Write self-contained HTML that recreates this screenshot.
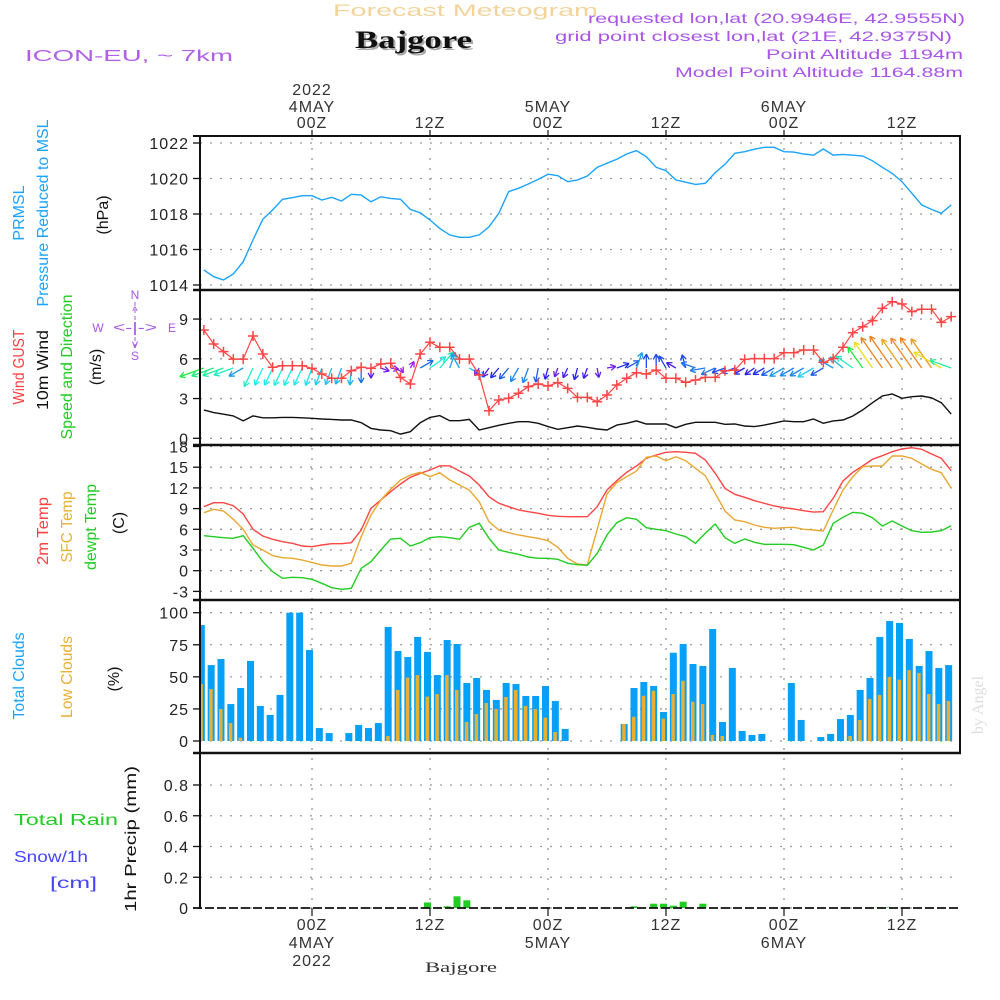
<!DOCTYPE html>
<html><head><meta charset="utf-8"><style>
html,body{margin:0;padding:0;background:#fff;}
svg{display:block;font-family:"Liberation Sans",sans-serif;}
</style></head><body>
<svg id="chart" width="1000" height="1000" viewBox="0 0 1000 1000" xmlns="http://www.w3.org/2000/svg">
<rect x="0" y="0" width="1000" height="1000" fill="#fff"/>
<text x="333" y="16" font-size="17" fill="#f2d49c" textLength="265" lengthAdjust="spacingAndGlyphs">Forecast Meteogram</text>
<text x="357" y="50" font-size="25" font-weight="bold" font-family="Liberation Serif,serif" fill="#aaa" textLength="117" lengthAdjust="spacingAndGlyphs">Bajgore</text>
<text x="355" y="48" font-size="25" font-weight="bold" font-family="Liberation Serif,serif" fill="#111" textLength="117" lengthAdjust="spacingAndGlyphs">Bajgore</text>
<text x="25" y="61" font-size="16" fill="#b060e8" textLength="208" lengthAdjust="spacingAndGlyphs">ICON-EU, ~ 7km</text>
<g fill="#a855e8" font-size="14">
<text x="588" y="23" textLength="377" lengthAdjust="spacingAndGlyphs">requested lon,lat (20.9946E, 42.9555N)</text>
<text x="555" y="41" textLength="397" lengthAdjust="spacingAndGlyphs">grid point closest lon,lat (21E, 42.9375N)</text>
<text x="766" y="59" textLength="197" lengthAdjust="spacingAndGlyphs">Point Altitude 1194m</text>
<text x="675" y="77" textLength="288" lengthAdjust="spacingAndGlyphs">Model Point Altitude 1164.88m</text>
</g>
<g font-size="16">
<text transform="translate(24,213) rotate(-90)" text-anchor="middle" fill="#1aa3ff">PRMSL</text>
<text transform="translate(48,213) rotate(-90)" text-anchor="middle" fill="#1aa3ff" textLength="187" lengthAdjust="spacingAndGlyphs">Pressure Reduced to MSL</text>
<text transform="translate(108,215) rotate(-90)" text-anchor="middle" fill="#111">(hPa)</text>
<text transform="translate(24,367) rotate(-90)" text-anchor="middle" fill="#ff4040" textLength="75" lengthAdjust="spacingAndGlyphs">Wind GUST</text>
<text transform="translate(48,370) rotate(-90)" text-anchor="middle" fill="#111" textLength="80" lengthAdjust="spacingAndGlyphs">10m Wind</text>
<text transform="translate(72,367) rotate(-90)" text-anchor="middle" fill="#22cc22" textLength="145" lengthAdjust="spacingAndGlyphs">Speed and Direction</text>
<text transform="translate(101,367) rotate(-90)" text-anchor="middle" fill="#111">(m/s)</text>
<text transform="translate(48,531) rotate(-90)" text-anchor="middle" fill="#ff4040" textLength="68" lengthAdjust="spacingAndGlyphs">2m Temp</text>
<text transform="translate(72,527) rotate(-90)" text-anchor="middle" fill="#e8b030" textLength="71" lengthAdjust="spacingAndGlyphs">SFC Temp</text>
<text transform="translate(96,527) rotate(-90)" text-anchor="middle" fill="#22cc22" textLength="86" lengthAdjust="spacingAndGlyphs">dewpt Temp</text>
<text transform="translate(124,523) rotate(-90)" text-anchor="middle" fill="#111">(C)</text>
<text transform="translate(24,676) rotate(-90)" text-anchor="middle" fill="#1aa3ff" textLength="87" lengthAdjust="spacingAndGlyphs">Total Clouds</text>
<text transform="translate(72,677) rotate(-90)" text-anchor="middle" fill="#e8b030" textLength="82" lengthAdjust="spacingAndGlyphs">Low Clouds</text>
<text transform="translate(119,679) rotate(-90)" text-anchor="middle" fill="#111">(%)</text>
<text x="14" y="825" fill="#22cc22" textLength="104" lengthAdjust="spacingAndGlyphs">Total  Rain</text>
<text x="14" y="862" fill="#4444ff" textLength="74" lengthAdjust="spacingAndGlyphs">Snow/1h</text>
<text x="50" y="888" fill="#4444ff" textLength="47" lengthAdjust="spacingAndGlyphs">[cm]</text>
<text transform="translate(136,839) rotate(-90)" text-anchor="middle" fill="#111" textLength="146" lengthAdjust="spacingAndGlyphs">1hr Precip (mm)</text>
</g>
<g fill="#a855e8" stroke="none" font-size="12">
<text x="98" y="332" text-anchor="middle">W</text>
<text x="172" y="332" text-anchor="middle">E</text>
<text x="135" y="299" text-anchor="middle">N</text>
<text x="135" y="360" text-anchor="middle">S</text>
<text x="135" y="332" text-anchor="middle" font-size="14" textLength="44" lengthAdjust="spacingAndGlyphs">&lt;-|-&gt;</text>
<text x="135" y="315" text-anchor="middle">^</text>
<text x="135" y="348" text-anchor="middle">v</text>
<line x1="135" y1="302" x2="135" y2="347" stroke="#a855e8" stroke-width="1" stroke-dasharray="4,3"/>
</g>
<text transform="translate(983,705) rotate(-90)" text-anchor="middle" font-family="Liberation Serif,serif" font-size="16" fill="#ddd">by Angel</text>
<text x="425" y="972" font-family="Liberation Serif,serif" font-size="15" fill="#333" textLength="72" lengthAdjust="spacingAndGlyphs">Bajgore</text>
<g id="plot"></g>
</svg>
<script>
const startHour = -11;
const pressure = [1014.85,1014.47,1014.28,1014.62,1015.31,1016.54,1017.7,1018.23,1018.83,1018.92,1019.03,1019.03,1018.79,1018.94,1018.73,1019.11,1019.07,1018.69,1018.97,1018.88,1018.83,1018.26,1018.07,1017.66,1017.19,1016.82,1016.69,1016.69,1016.82,1017.28,1018.04,1019.26,1019.45,1019.69,1019.95,1020.24,1020.16,1019.82,
1019.92,1020.14,1020.63,1020.86,1021.08,1021.38,1021.57,1021.23,1020.63,1020.44,1019.92,1019.79,1019.67,1019.73,1020.33,1020.8,1021.42,1021.51,1021.65,1021.76,1021.76,1021.51,1021.49,1021.38,1021.31,1021.66,1021.32,1021.36,1021.31,1021.27,1021.0,1020.63,1020.29,1019.82,1019.17,1018.51,1018.26,1018.04,1018.51];
const gust = [8.17,7.12,6.54,5.98,5.98,7.72,6.36,5.36,5.48,5.48,5.48,5.28,4.85,4.53,4.53,5.1,5.36,5.28,5.61,5.66,4.6,4.1,6.36,7.25,6.87,6.87,5.98,5.98,4.78,2.08,2.89,3.02,3.4,3.9,4.1,3.95,4.2,3.77,3.09,3.09,
2.76,3.27,4.02,4.53,4.95,4.85,5.15,4.53,4.53,4.23,4.4,4.6,4.6,5.1,5.15,5.96,6.01,6.01,6.01,6.46,6.46,6.66,6.66,5.73,6.01,6.87,7.97,8.42,8.88,9.81,10.31,10.14,9.56,9.74,9.74,8.75,9.18];
const windSpeed = [2.14,1.94,1.82,1.69,1.31,1.69,1.55,1.55,1.58,1.58,1.55,1.51,1.46,1.43,1.38,1.38,1.18,0.75,0.63,0.57,0.32,0.5,1.18,1.58,1.71,1.33,1.33,1.43,0.63,0.8,0.98,1.13,1.25,1.25,1.13,0.88,0.68,0.8,0.93,0.83,
0.7,0.63,1.0,1.13,1.31,1.08,1.08,1.08,0.8,1.06,1.21,1.21,1.21,1.06,1.08,0.93,0.88,1.0,1.15,1.31,1.25,1.25,1.46,1.13,1.31,1.38,1.68,2.14,2.69,3.19,3.34,3.02,3.14,3.19,3.06,2.69,1.83];
const windDir = [70,70,70,70,60,25,25,25,25,25,25,20,20,20,20,5,0,0,290,280,330,210,240,235,220,200,150,300,
30,35,40,40,30,20,10,15,20,25,15,20,350,260,250,240,200,180,180,150,120,165,110,80,65,70,70,60,55,60,60,60,60,60,60,60,120,130,125,145,145,145,145,145,145,145,145,120,110];
const temp2m = [9.28,9.86,9.86,9.42,8.22,6.0,5.03,4.55,4.2,3.97,3.58,3.48,3.72,3.91,3.91,4.06,5.9,9.04,10.25,11.45,12.57,13.53,14.1,14.6,15.2,15.2,14.45,13.72,12.42,10.72,9.77,9.28,8.8,8.55,8.32,8.03,7.88,7.83,7.83,
7.83,9.28,11.7,13.04,14.26,15.17,16.29,16.77,17.16,17.25,17.16,17.01,16.04,14.12,11.94,11.07,10.64,10.14,9.77,9.38,9.13,8.94,8.7,8.5,8.55,10.49,13.0,14.26,15.17,16.14,16.67,17.25,17.64,17.83,17.59,16.91,16.29,14.49];
const tempSfc = [8.41,8.9,8.65,7.45,6.0,3.72,3.0,2.17,1.88,1.79,1.55,1.21,0.83,0.68,0.68,1.07,4.93,8.07,10.25,11.8,13.14,13.87,14.26,13.62,14.2,13.14,12.42,11.7,10.0,7.1,5.9,5.51,5.17,4.93,4.7,4.35,3.39,1.79,0.97,
0.83,6.0,11.12,12.75,13.62,14.45,16.43,16.62,15.94,16.52,15.94,14.84,13.77,11.22,8.65,7.35,7.1,6.62,6.29,6.14,6.23,6.29,6.0,5.9,5.75,8.8,11.7,13.62,15.07,15.17,15.17,16.62,16.62,16.29,15.46,14.69,14.2,11.94];
const dewpoint = [5.07,4.93,4.78,4.7,5.07,3.24,1.3,-0.14,-1.1,-0.96,-1.01,-1.25,-1.83,-2.46,-2.7,-2.55,0.35,1.3,3.0,4.59,4.7,3.58,4.06,4.78,4.93,4.78,4.55,6.29,6.87,4.7,3.0,2.67,2.38,1.99,1.79,1.79,1.65,1.07,0.87,
0.78,2.52,5.17,6.96,7.68,7.45,6.23,6.0,5.8,5.32,4.93,3.97,5.42,6.77,4.78,3.97,4.59,4.11,3.83,3.83,3.83,3.77,3.39,3.0,3.72,6.87,7.74,8.46,8.32,7.68,6.48,7.2,6.48,5.8,5.56,5.61,5.8,6.52];
const totalClouds = [90.4,59.2,63.9,28.8,41.3,62.4,27.3,20.3,35.9,100,100,70.9,10.1,6.2,0,6.2,12.5,10.1,14.0,88.9,70.1,65.5,81.1,69.4,51.4,78.7,75.6,45.2,49.1,39.8,32.0,45.2,44.4,35.1,35.1,42.9,31.2,9.4,
0,0,0,0,0,13.2,41.3,46.0,42.9,22.6,68.8,75.6,60.0,58.5,87.3,14.8,56.9,7.8,4.7,5.5,0,0,45.2,16.4,0,3.1,5.5,17.1,20.3,39.8,49.1,81.1,93.5,92.0,79.5,58.5,70.1,56.9,59.2];
const lowClouds = [44.4,40.5,24.9,14,2.6,0,0,0,0,0,0,0,0,0,0,0,0,0,0,3.9,39.8,49.4,51.4,34.6,36.6,51.4,39.8,14.8,21.0,29.6,24.9,34.3,39.8,27.3,24.9,18.2,7.0,0,
0,0,0,0,0,13.2,18.9,35.3,39.2,17.4,36.6,47.0,30.6,28.8,4.7,3.9,0,0,0,0,0,0,0,0,0,0,0,0,3.9,16.4,32.7,35.9,49.9,47.8,55.3,53.0,36.6,28.8,31.2];
const precip = [0,0,0,0,0,0,0,0,0,0,0,0,0,0,0,0,0,0,0,0,0,0,0,0.036,0.005,0.011,0.076,0.05,0,0,0,0,0,0,0,0,0,0,
0,0,0,0,0,0,0.011,0.003,0.028,0.028,0.015,0.041,0,0.028,0,0,0,0,0,0,0,0,0,0,0,0,0,0,0,0,0.004,0.005,0.004,0,0,0,0,0,0];
const pressureTicks = [1014,1016,1018,1020,1022];
const windTicks = [0,3,6,9];
const tempTicks = [-3,0,3,6,9,12,15,18];
const cloudTicks = [0,25,50,75,100];
const precipTicks = [0,0.2,0.4,0.6,0.8];
const gridHours = [0,12,24,36,48,60];
const topLabels = [["2022","4MAY","00Z"],["","","12Z"],["","5MAY","00Z"],["","","12Z"],["","6MAY","00Z"],["","","12Z"]];
const bottomLabels = [["00Z","4MAY","2022"],["12Z","",""],["00Z","5MAY",""],["12Z","",""],["00Z","6MAY",""],["12Z","",""]];

const NS = "http://www.w3.org/2000/svg";
const plot = document.getElementById('plot');
function mk(tag, attrs, parent){const e=document.createElementNS(NS,tag);for(const k in attrs)e.setAttribute(k,attrs[k]);(parent||plot).appendChild(e);return e;}
const X0=200, X1=960;
const xH = h => 312 + h*9.8333;
const yP = v => 143 + (1022-v)*17.75;
const yW = v => 438.3 - v*13.25;
const yT = v => 570.7 - v*6.9;
const yC = v => 741 - v*1.283;
const yR = v => 908 - v*153.75;
const hourOf = i => startHour + i;

const panels=[[136,290,pressureTicks,yP,'pressure'],[290,445,windTicks,yW,'wind'],[445,600,tempTicks,yT,'temp'],[600,753,cloudTicks,yC,'cloud'],[753,908,precipTicks,yR,'precip']];
panels.forEach(p=>{
  p[2].forEach(t=>{
    const y=p[3](t);
    const g=mk('line',{x1:X0,x2:X1,y1:y,y2:y,stroke:'#999','stroke-width':1.3,'stroke-dasharray':'2,8'});
    
    
    const tk=mk('line',{x1:193,x2:200,y1:y,y2:y,stroke:'#111','stroke-width':1.3});
    
    
    const lb=mk('text',{x:189,y:y+6,'text-anchor':'end','font-size':16,fill:'#222','letter-spacing':'1'});
    lb.textContent=String(t);
    
    
  });
});
gridHours.forEach((h,i)=>{
  const x=xH(h);
  const v=mk('line',{x1:x,x2:x,y1:138,y2:906,stroke:'#999','stroke-width':1.3,'stroke-dasharray':'2,8'});
  
  
  const t1=mk('line',{x1:x,x2:x,y1:130,y2:136,stroke:'#111','stroke-width':1.2});
  
  
  const t2=mk('line',{x1:x,x2:x,y1:908,y2:916,stroke:'#111','stroke-width':1.2});
  
  
  topLabels[i].forEach((s,j)=>{ if(!s) return;
    const tx=mk('text',{x:x,y:[95,112,128][j],'text-anchor':'middle','font-size':16,fill:'#333','letter-spacing':'1'});
    tx.textContent=s;
    
    
  });
  bottomLabels[i].forEach((s,j)=>{ if(!s) return;
    const tx=mk('text',{x:x,y:[930,948,966][j],'text-anchor':'middle','font-size':16,fill:'#333','letter-spacing':'1'});
    tx.textContent=s;
    
    
  });
});

totalClouds.forEach((v,i)=>{
  const x=xH(hourOf(i)); if(v<=0) return;
  const x0=Math.max(X0,x-6), y=yC(v);
  const b=mk('rect',{x:x0,y:y,width:x+1-x0,height:741-y,fill:'#06a0f8'});
  
  
});
lowClouds.forEach((v,i)=>{
  const x=xH(hourOf(i)); if(v<=0) return;
  const x0=Math.max(X0,x-4.5), y=yC(v);
  const b=mk('rect',{x:x0,y:y,width:x-1-x0,height:741-y,fill:'#e8b030'});
  
  
});
precip.forEach((v,i)=>{
  if(v<=0) return;
  const x=xH(hourOf(i)), y=yR(v);
  const b=mk('rect',{x:x-6,y:y,width:7,height:908-y,fill:'#22cc22'});
  
  
});

function pts(arr,yf){return arr.map((v,i)=>xH(hourOf(i)).toFixed(1)+','+yf(v).toFixed(1)).join(' ');}
const pl=mk('polyline',{points:pts(pressure,yP),fill:'none',stroke:'#1aa3ff','stroke-width':1.4});


const wl=mk('polyline',{points:pts(windSpeed,yW),fill:'none',stroke:'#111','stroke-width':1.4});


const tl=mk('polyline',{points:pts(temp2m,yT),fill:'none',stroke:'#ff4545','stroke-width':1.4});


const sl=mk('polyline',{points:pts(tempSfc,yT),fill:'none',stroke:'#e8a830','stroke-width':1.4});


const dl=mk('polyline',{points:pts(dewpoint,yT),fill:'none',stroke:'#22cc22','stroke-width':1.4});



function spdColor(s){
  const st=[[0.5,275],[1.0,235],[1.3,205],[1.6,175],[2.1,135],[2.7,55],[3.2,28]];
  let h=st[0][1];
  if(s>=st[st.length-1][0]) h=st[st.length-1][1];
  else for(let k=0;k<st.length-1;k++){ if(s>=st[k][0]&&s<st[k+1][0]){const f=(s-st[k][0])/(st[k+1][0]-st[k][0]);h=st[k][1]+f*(st[k+1][1]-st[k][1]);} }
  return 'hsl('+h.toFixed(0)+',85%,52%)';
}
windDir.forEach((d,i)=>{
  const s=windSpeed[i], x=xH(hourOf(i)), y=368;
  const to=(d+180)*Math.PI/180, L=11*s+2;
  const dx=Math.sin(to), dy=-Math.cos(to);
  const x2=x+dx*L, y2=y+dy*L, c=spdColor(s);
  const g=mk('g',{stroke:c,'stroke-width':1.3,fill:'none'});
  
  
  mk('line',{x1:x,y1:y,x2:x2,y2:y2},g);
  const a=Math.atan2(dy,dx);
  [0.5,-0.5].forEach(o=>{mk('line',{x1:x2,y1:y2,x2:x2-6*Math.cos(a+o),y2:y2-6*Math.sin(a+o)},g);});
});
const gl=mk('polyline',{points:pts(gust,yW),fill:'none',stroke:'#ff4545','stroke-width':1.2});


gust.forEach((v,i)=>{
  const x=xH(hourOf(i)), y=yW(v);
  const m=mk('path',{d:'M'+(x-5)+','+y+'H'+(x+5)+'M'+x+','+(y-5)+'V'+(y+5),stroke:'#ff4545','stroke-width':1.5});
  
  
});

[[136,2],[290,2.5],[445,2.5],[600,2.5],[753,2.5]].forEach(f=>{
  const l=mk('line',{x1:193,x2:X1+1,y1:f[0],y2:f[0],stroke:'#111','stroke-width':f[1]});
  
  
});
const la=mk('line',{x1:200,x2:200,y1:135,y2:909,stroke:'#111','stroke-width':2});


const ra=mk('line',{x1:960,x2:960,y1:135,y2:754,stroke:'#111','stroke-width':2});


const ba=mk('line',{x1:193,x2:960,y1:908,y2:908,stroke:'#111','stroke-width':1.8,'stroke-dasharray':'9,3'});


</script>
</body></html>
